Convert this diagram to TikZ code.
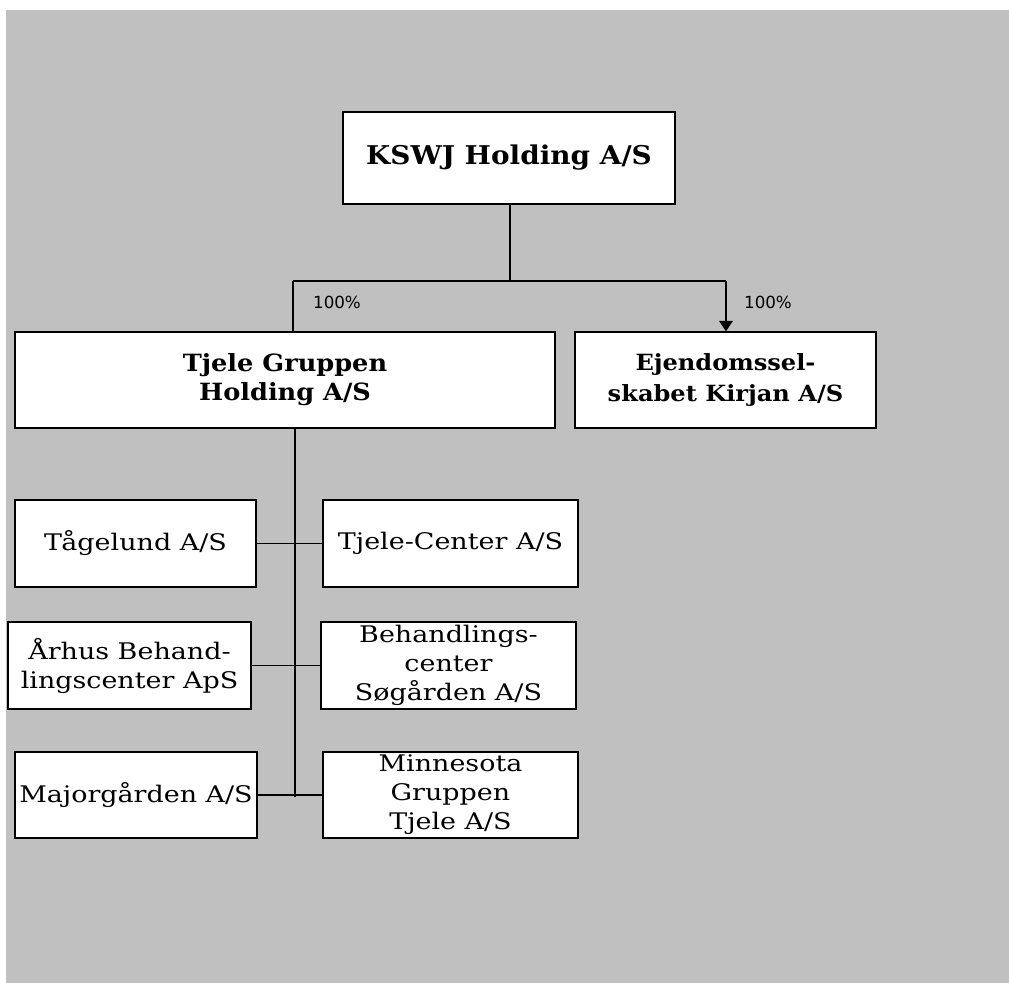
\documentclass[tikz,border=0pt]{standalone}
\usepackage{fontspec}
\usepackage{xcolor}
\usetikzlibrary{positioning,calc,arrows.meta}
\newfontfamily\orgfont[FakeStretch=1.18]{DejaVu Serif}
\newfontfamily\orgboldfont[FakeStretch=1.08]{DejaVu Serif}
\newfontfamily\pctfont{DejaVu Sans}
\definecolor{bggray}{RGB}{192,192,192}

\begin{document}
\begin{tikzpicture}[x=0.02cm, y=-0.02cm,
    company/.style={draw, fill=white, line width=0.8pt, align=center, inner sep=0pt,
        font=\orgfont\fontsize{13}{16.5}\selectfont},
    parent/.style={company, font=\orgboldfont\bfseries\fontsize{13.5}{16.5}\selectfont},
    pct/.style={font=\pctfont\fontsize{9.5}{11}\selectfont},
    link/.style={line width=0.85pt}]
    % Background
    \useasboundingbox (0,0) rectangle (1009,983);
    \fill [bggray] (6,10) rectangle (1009,983);

    % Holding levels
    \node [parent, font=\orgboldfont\bfseries\fontsize{14.7}{17}\selectfont,
        minimum width=6.64cm, minimum height=1.84cm] (kswj) at (509,158) {KSWJ Holding A/S};
    \node [parent, minimum width=10.8cm, minimum height=1.92cm] (tjele) at (285,380) {Tjele Gruppen\\Holding A/S};
    \node [parent, font=\orgboldfont\bfseries\fontsize{12.7}{17.6}\selectfont,
        minimum width=6.02cm, minimum height=1.92cm] (ejd) at (725.5,380) {Ejendomssel-\\skabet Kirjan A/S};

    % Subsidiaries
    \node [company, minimum width=4.82cm, minimum height=1.74cm] (tag) at (135.5,543.5) {Tågelund A/S};
    \node [company, minimum width=5.1cm, minimum height=1.74cm] (tcen) at (450.5,543.5) {Tjele-Center A/S};
    \node [company, minimum width=4.86cm, minimum height=1.74cm] (arh) at (129.5,665.5) {Århus Behand-\\lingscenter ApS};
    \node [company, minimum width=5.1cm, minimum height=1.74cm] (beh) at (448.5,665.5) {Behandlings-\\center\\Søgården A/S};
    \node [company, minimum width=4.84cm, minimum height=1.72cm] (maj) at (136,795) {Majorgården A/S};
    \node [company, minimum width=5.1cm, minimum height=1.72cm] (min) at (450.5,795) {Minnesota\\Gruppen\\Tjele A/S};

    % Ownership lines
    \coordinate (split) at (510,281);
    \coordinate (lbranch) at (293,281);
    \coordinate (rbranch) at (726,281);
    \draw [link] (kswj.south -| split) -- (split);
    \draw [link] (lbranch) -- (rbranch);
    \draw [link] (lbranch) -- (lbranch |- tjele.north);
    \draw [line width=1pt, -{Triangle[width=7.8pt,length=6pt]}] (rbranch) -- (rbranch |- ejd.north);
    \node [pct] (pctl) at (337,302) {100\%};
    \node [pct] (pctr) at (768,302) {100\%};

    % Trunk to subsidiaries
    \coordinate (trunk) at (295,797);
    \draw [link] (trunk |- tjele.south) -- (trunk);
    \draw [link] (tag.east) -- (tcen.west);
    \draw [link] (arh.east) -- (beh.west);
    \draw [link] (maj.east) -- (min.west);
\end{tikzpicture}
\end{document}
